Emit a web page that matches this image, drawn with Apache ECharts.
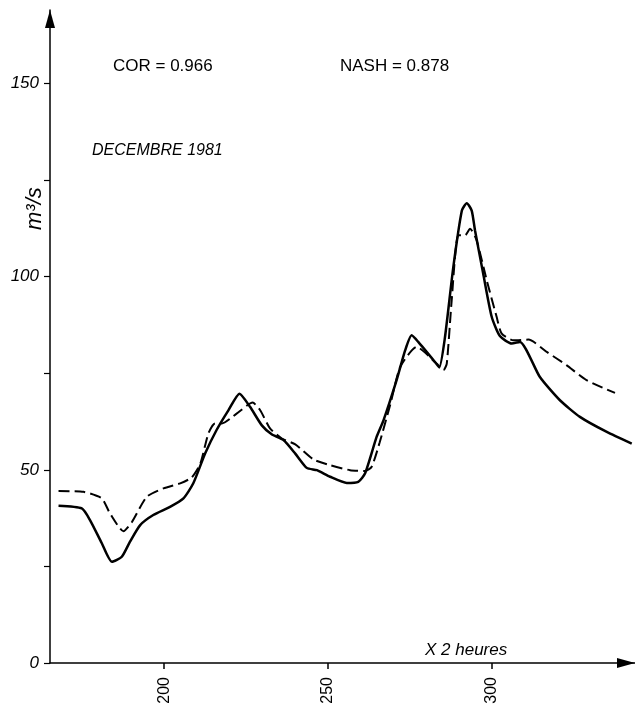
<!DOCTYPE html>
<html>
<head>
<meta charset="utf-8">
<script src="https://cdn.jsdelivr.net/npm/echarts@6/dist/echarts.min.js"></script>
<style>
  html, body { margin: 0; padding: 0; background: #fff; }
  #main { width: 635px; height: 714px; }
</style>
</head>
<body>
<div id="main"></div>
<script>
// debit observe (trait plein)
var obsX = [167.8, 174.9, 177.4, 181, 184.1, 187.1, 189.6, 192.7, 196.7, 201.8, 205.9, 208.9, 212.5, 216, 219.6, 223,
  226.2, 229.8, 232.8, 236.4, 240, 243.5, 246.6, 250.6, 255.7, 259.2, 261.3, 264.8, 266.9, 270.9, 273.5, 275.5,
  277.5, 282.6, 283.9, 285.6, 288.2, 290.8, 292.3, 293.8, 294.8, 297.3, 299.9, 302.4, 306, 308.5, 314.6, 320.7,
  326.8, 335, 342.6]
var obsQ = [40.7, 40.0, 37.0, 31, 26.2, 27.5, 31.4, 35.7, 38.3, 40.4, 42.6, 46.5, 54.2, 60.3, 65.4, 69.7,
  66.3, 61.5, 59.2, 57.7, 54.2, 50.5, 49.9, 48.2, 46.6, 46.9, 49.1, 58.5, 62.8, 73.2, 80.9, 84.8,
  83.1, 77.9, 76.5, 84, 102.5, 117.1, 119, 117.1, 112, 100.8, 89.6, 84.6, 82.7, 83.1, 74, 68,
  63.7, 59.8, 56.8]

// debit calcule (tirets)
var calcX = [167.8, 175.4, 181, 183.5, 187.6, 190.2, 194.7, 199.8, 204.9, 208.4, 211, 213.5, 215.5, 217.6, 222.2,
  227, 229.3, 232.3, 235.9, 240, 245.5, 250.6, 256.7, 261.3, 263.3, 265.7, 269, 272, 277, 283.1, 285.2, 286.2,
  287.7, 289.7, 291.8, 293.3, 295.3, 298.4, 301.4, 302.9, 306.5, 311.1, 316.7, 322.7, 328.8, 337.5]
var calcQ = [44.5, 44.3, 42.6, 38.7, 34.1, 36.5, 43, 45.2, 46.5, 48, 51.5, 59.4, 62, 62, 64.6,
  67.4, 65.4, 60.7, 58.1, 56.6, 52.7, 51.2, 49.9, 49.7, 50.8, 57, 67, 76.6, 81.8, 77.5, 75.8, 77.5,
  93.9, 110.7, 110.7, 112.4, 109.4, 99, 89.6, 85.3, 83.5, 83.7, 80.5, 77.1, 73.2, 69.9]

var xTicks = [200, 250, 300]
var yTicks = [0, 25, 50, 75, 100, 125, 150]
var yLabels = [0, 50, 100, 150]

function pairs (xs, ys) {
  return xs.map(function (x, i) { return [x, ys[i]] })
}

var font = 'Liberation Sans, Arial, sans-serif'
var myChart = echarts.init(document.getElementById('main'))
myChart.setOption({
  animation: false,
  backgroundColor: '#fff',
  grid: { left: 50, right: 0, top: 10, bottom: 51 },
  xAxis: {
    type: 'value',
    min: 165.2,
    max: 343.6,
    splitLine: { show: false },
    axisLine: {
      lineStyle: { color: '#000', width: 1.5 },
      symbol: ['none', 'triangle'],
      symbolSize: [10, 18],
      symbolOffset: [0, -9]
    },
    axisTick: { customValues: xTicks, length: 6, lineStyle: { color: '#000', width: 1.5 } },
    axisLabel: {
      customValues: xTicks,
      rotate: 90,
      margin: 14,
      color: '#000',
      fontSize: 16,
      fontFamily: font
    }
  },
  yAxis: {
    type: 'value',
    min: 0,
    max: 169,
    splitLine: { show: false },
    axisLine: {
      lineStyle: { color: '#000', width: 1.5 },
      symbol: ['none', 'triangle'],
      symbolSize: [10, 18],
      symbolOffset: [0, -9]
    },
    axisTick: { customValues: yTicks, length: 6, lineStyle: { color: '#000', width: 1.2 } },
    axisLabel: {
      customValues: yLabels,
      margin: 11,
      color: '#000',
      fontSize: 17,
      fontStyle: 'italic',
      fontFamily: font
    }
  },
  series: [
    {
      name: 'observe',
      type: 'line',
      data: pairs(obsX, obsQ),
      smooth: 0.2,
      symbol: 'none',
      lineStyle: { color: '#000', width: 2.5 }
    },
    {
      name: 'calcule',
      type: 'line',
      data: pairs(calcX, calcQ),
      smooth: 0.2,
      symbol: 'none',
      lineStyle: { color: '#000', width: 2, type: [11, 5] }
    }
  ],
  graphic: [
    { type: 'text', left: 113, top: 58, style: { text: 'COR = 0.966', font: '17px ' + font, fill: '#000' } },
    { type: 'text', left: 340, top: 58, style: { text: 'NASH = 0.878', font: '17px ' + font, fill: '#000' } },
    { type: 'text', left: 92, top: 143, style: { text: 'DECEMBRE 1981', font: 'italic 16px ' + font, fill: '#000' } },
    { type: 'text', left: 425, top: 642, style: { text: 'X 2 heures', font: 'italic 17px ' + font, fill: '#000' } },
    {
      type: 'text',
      x: 24,
      y: 230,
      rotation: Math.PI / 2,
      style: { text: 'm³/s', font: 'italic 22px ' + font, fill: '#000' }
    }
  ]
})
</script>
</body>
</html>
